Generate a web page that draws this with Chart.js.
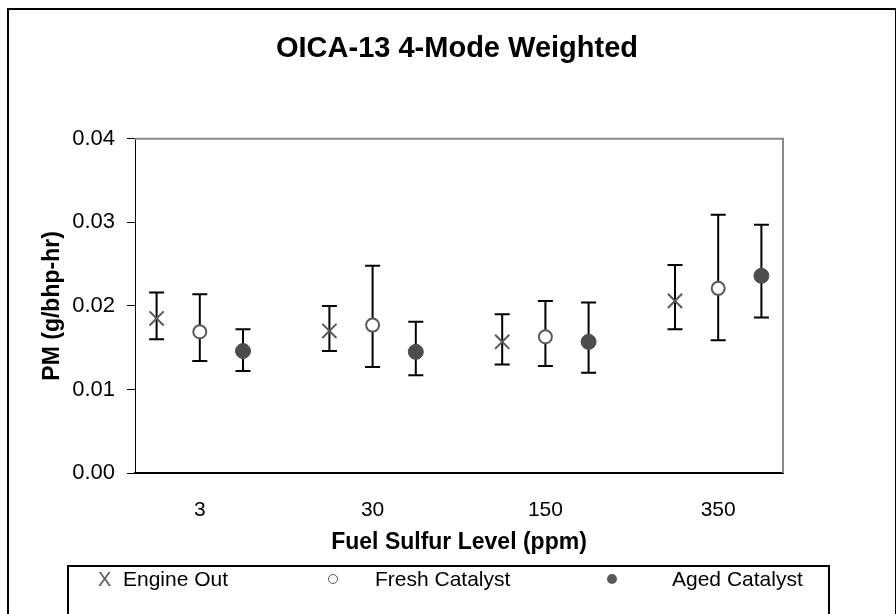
<!DOCTYPE html>
<html>
<head>
<meta charset="utf-8">
<script src="https://cdn.jsdelivr.net/npm/chart.js@4"></script>
<style>
    body { margin: 0; background: #fff; font-family: "Liberation Sans", Arial, sans-serif; }
    #wrap { position: relative; width: 896px; height: 614px; overflow: hidden; }
    #frame { position: absolute; left: 7px; top: 8px; width: 886px; height: 640px; border: 2px solid #000; }
    #pmChart { position: absolute; left: 0; top: 0; }
    .legend-box { position: absolute; left: 67px; top: 565px; width: 759px; height: 80px; border: 2px solid #000; }
    .lg { position: absolute; top: 566px; height: 26px; line-height: 26px; font-size: 21px; color: #000; white-space: nowrap; }
    .lg-x { color: #595959; font-size: 20px; }
    .dot { position: absolute; width: 8px; height: 8px; border-radius: 50%; }
</style>
</head>
<body>
<div id="wrap">
    <div id="frame"></div>
    <canvas id="pmChart" width="896" height="614"></canvas>
    <div class="legend-box"></div>
    <div class="lg lg-x" style="left:98px">X</div>
    <div class="lg" style="left:123px">Engine Out</div>
    <div class="dot" style="left:328px; top:574px; border:1.5px solid #595959; background:#fff;"></div>
    <div class="lg" style="left:375px">Fresh Catalyst</div>
    <div class="dot" style="left:607px; top:574px; width:10px; height:10px; background:#595959;"></div>
    <div class="lg" style="left:672px">Aged Catalyst</div>
</div>

<script>
// Fuel sulfur levels (ppm) on the x axis
const sulfurLevels = ['3', '30', '150', '350'];

// PM (g/bhp-hr), mean with lower/upper error bar ends
const engineOut     = [0.0185, 0.0170, 0.0157, 0.0206];
const engineOutLow  = [0.0160, 0.0146, 0.0130, 0.0172];
const engineOutHigh = [0.0216, 0.0200, 0.0190, 0.0249];

const freshCat      = [0.0169, 0.0177, 0.0163, 0.0221];
const freshCatLow   = [0.0134, 0.0127, 0.0128, 0.0159];
const freshCatHigh  = [0.0214, 0.0248, 0.0206, 0.0309];

const agedCat       = [0.0146, 0.0145, 0.0157, 0.0236];
const agedCatLow    = [0.0122, 0.0117, 0.0120, 0.0186];
const agedCatHigh   = [0.0172, 0.0181, 0.0204, 0.0297];

const GROUP_OFFSET = 0.25;

function toPoints(values, offset) {
    return values.map((v, i) => ({ x: i + 1 + offset, y: v }));
}

// error bars drawn under the markers
const errorBars = {
    id: 'errorBars',
    beforeDatasetsDraw(chart) {
        const ctx = chart.ctx;
        const yScale = chart.scales.y;
        ctx.save();
        ctx.strokeStyle = '#000';
        ctx.lineWidth = 2;
        chart.data.datasets.forEach((ds, di) => {
            const meta = chart.getDatasetMeta(di);
            meta.data.forEach((pt, i) => {
                const yl = yScale.getPixelForValue(ds.errLow[i]);
                const yh = yScale.getPixelForValue(ds.errHigh[i]);
                ctx.beginPath();
                ctx.moveTo(pt.x, yl);
                ctx.lineTo(pt.x, yh);
                ctx.moveTo(pt.x - 7.5, yl);
                ctx.lineTo(pt.x + 7.5, yl);
                ctx.moveTo(pt.x - 7.5, yh);
                ctx.lineTo(pt.x + 7.5, yh);
                ctx.stroke();
            });
        });
        ctx.restore();
    }
};

// grey top/right edge of the plot area
const plotFrame = {
    id: 'plotFrame',
    beforeDatasetsDraw(chart) {
        const { ctx, chartArea: a } = chart;
        ctx.save();
        ctx.strokeStyle = '#888';
        ctx.lineWidth = 2;
        ctx.beginPath();
        ctx.moveTo(a.left, a.top);
        ctx.lineTo(a.right, a.top);
        ctx.lineTo(a.right, a.bottom);
        ctx.stroke();
        ctx.restore();
    }
};

Chart.defaults.font.family = "'Liberation Sans', Arial, sans-serif";
Chart.defaults.color = '#000';

new Chart(document.getElementById('pmChart'), {
    type: 'scatter',
    data: {
        datasets: [
            {
                label: 'Engine Out',
                data: toPoints(engineOut, -GROUP_OFFSET),
                errLow: engineOutLow,
                errHigh: engineOutHigh,
                pointStyle: 'crossRot',
                pointRadius: 10,
                borderColor: '#595959',
                borderWidth: 2
            },
            {
                label: 'Fresh Catalyst',
                data: toPoints(freshCat, 0),
                errLow: freshCatLow,
                errHigh: freshCatHigh,
                pointStyle: 'circle',
                pointRadius: 6.5,
                borderColor: '#595959',
                backgroundColor: '#fff',
                borderWidth: 2
            },
            {
                label: 'Aged Catalyst',
                data: toPoints(agedCat, GROUP_OFFSET),
                errLow: agedCatLow,
                errHigh: agedCatHigh,
                pointStyle: 'circle',
                pointRadius: 7.5,
                borderColor: '#4d4d4d',
                backgroundColor: '#4d4d4d',
                borderWidth: 1
            }
        ]
    },
    options: {
        responsive: false,
        animation: false,
        events: [],
        layout: { padding: { left: 18, right: 0, top: 0, bottom: 48 } },
        plugins: {
            legend: { display: false },
            tooltip: { enabled: false },
            title: {
                display: true,
                text: 'OICA-13 4-Mode Weighted',
                font: { size: 29, weight: 'bold' },
                color: '#000',
                padding: { top: 32, bottom: 72 }
            }
        },
        scales: {
            x: {
                type: 'linear',
                min: 0.625,
                max: 4.375,
                afterBuildTicks: s => { s.ticks = sulfurLevels.map((_, i) => ({ value: i + 1 })); },
                afterFit: s => { s.height = 93; },
                ticks: {
                    callback: v => sulfurLevels[v - 1],
                    font: { size: 21 },
                    padding: 17,
                    maxRotation: 0
                },
                grid: { display: false },
                border: { display: true, color: '#000', width: 2 },
                title: {
                    display: true,
                    text: 'Fuel Sulfur Level (ppm)',
                    font: { size: 23, weight: 'bold' },
                    padding: { top: 0, bottom: 10 }
                }
            },
            y: {
                min: 0,
                max: 0.04,
                afterFit: s => { s.width = 117; },
                ticks: {
                    stepSize: 0.01,
                    callback: v => v.toFixed(2),
                    font: { size: 22 },
                    padding: 12
                },
                grid: { drawOnChartArea: false, tickLength: 8, color: '#000', lineWidth: 1 },
                border: { display: true, color: '#000', width: 1 },
                title: {
                    display: true,
                    text: 'PM (g/bhp-hr)',
                    font: { size: 23, weight: 'bold' },
                    padding: { top: 21, bottom: 0 }
                }
            },
            yRight: {
                position: 'right',
                display: true,
                afterFit: s => { s.width = 113; },
                ticks: { display: false },
                grid: { display: false },
                border: { display: false }
            }
        }
    },
    plugins: [errorBars, plotFrame]
});
</script>
</body>
</html>
